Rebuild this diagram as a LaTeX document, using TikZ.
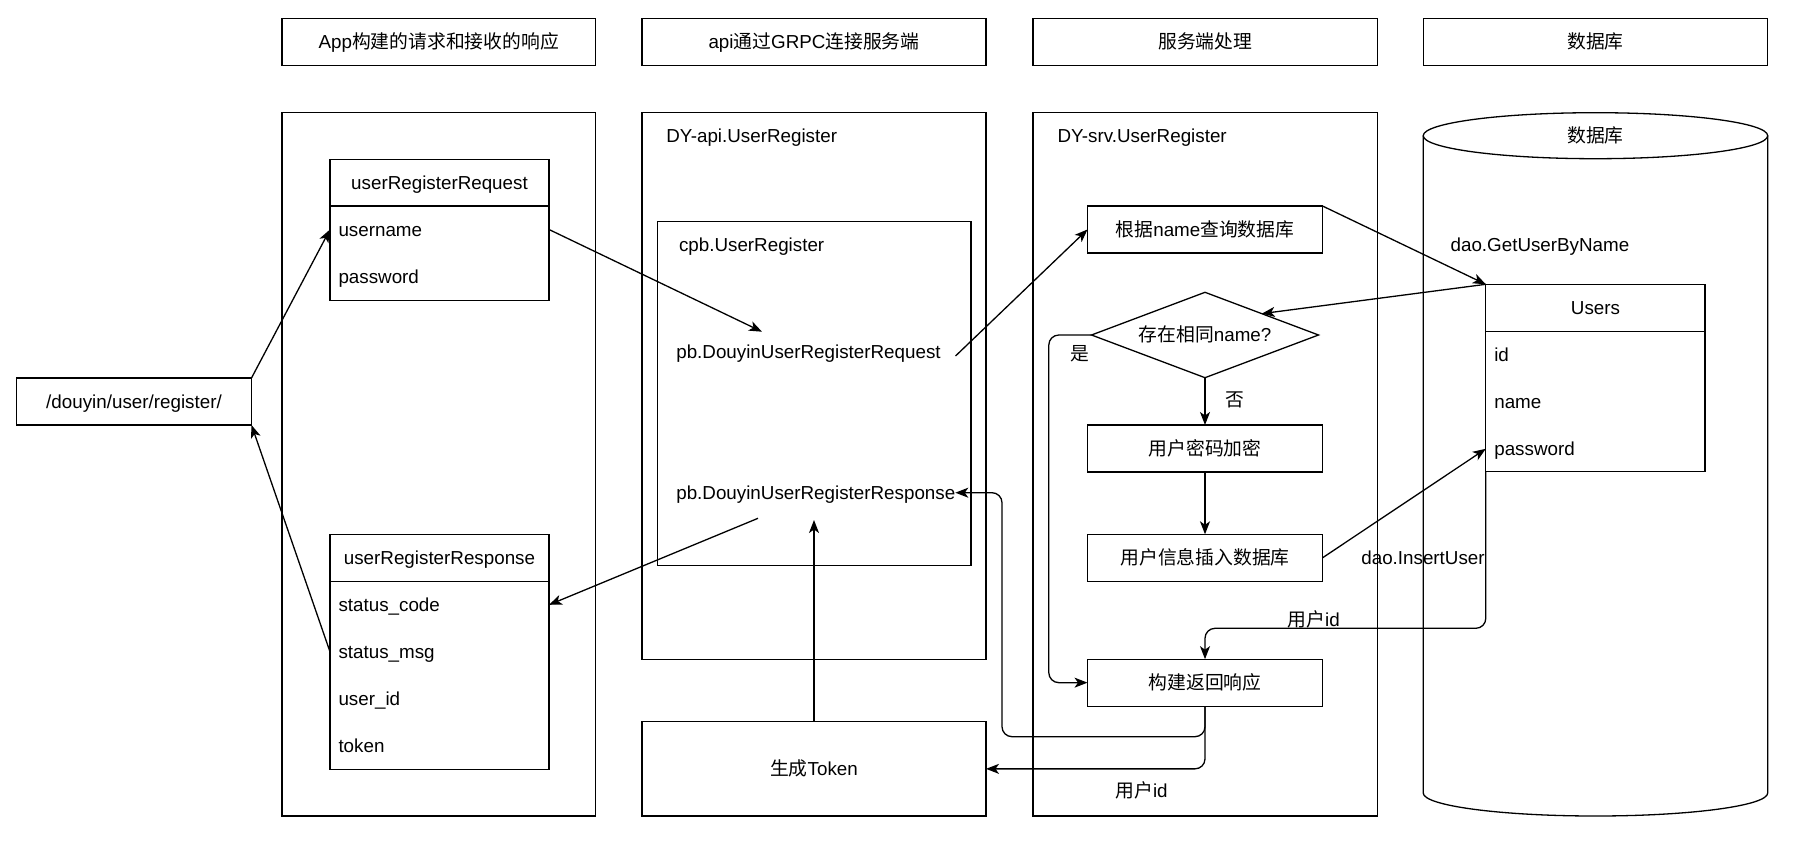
\documentclass[tikz,border=0pt]{standalone}
\usepackage{fontspec}
\setmainfont{Liberation Sans}
\newfontfamily\cjk{Noto Sans CJK SC}
\usetikzlibrary{arrows.meta,shapes.geometric}
\newcommand\zh[1]{{\cjk #1}}
\begin{document}
\begin{tikzpicture}[x=1pt,y=-1pt,
  every node/.style={font=\fontsize{18.8}{22}\selectfont, text height=17.5pt, text depth=4pt},
  ln/.style={line width=1.3pt,draw=black},
  box/.style={draw, line width=1.3pt, inner sep=0pt, outer sep=0pt},
  row/.style={inner xsep=8.5pt, inner ysep=0pt, outer sep=0pt, text width=202pt, align=left, minimum height=47pt, anchor=center},
  urow/.style={row, text width=202.3pt},
  lbl/.style={inner sep=0pt, outer sep=0pt, anchor=west},
  txt/.style={inner sep=0pt, outer sep=0pt},
  arr/.style={line width=1.3pt, -{Stealth[length=13pt,width=10pt,inset=3.5pt]}},
  rc/.style={rounded corners=10pt}
]
\useasboundingbox (0,0) rectangle (1814,843);

% headers
\node[box, minimum width=313.5pt, minimum height=47pt] (h1) at (438.75,42.2) {App\zh{构建的请求和接收的响应}};
\node[box, minimum width=344pt, minimum height=47pt] (h2) at (814,42.2) {api\zh{通过}GRPC\zh{连接服务端}};
\node[box, minimum width=344.4pt, minimum height=47pt] (h3) at (1205.2,42.2) {\zh{服务端处理}};
\node[box, minimum width=344.5pt, minimum height=47pt] (h4) at (1595.45,42.2) {\zh{数据库}};

% panels
\node[box, minimum width=313.5pt, minimum height=703.3pt] (p1) at (438.75,464.35) {};
\node[box, minimum width=344pt, minimum height=546.6pt] (p2) at (814,386) {};
\node[box, minimum width=344.4pt, minimum height=703.3pt] (p3) at (1205.2,464.35) {};
\node[box, minimum width=344pt, minimum height=94.3pt] (tok) at (814,768.85) {\zh{生成}Token};
\node[box, minimum width=313.2pt, minimum height=344pt] (cpb) at (814.3,393.7) {};

% cylinder
\draw[ln] (1423.2,135.7) -- (1423.2,793) arc[start angle=180,end angle=360,x radius=172.25pt,y radius=23pt] -- (1767.7,135.7);
\draw[ln] (1595.45,135.7) ellipse[x radius=172.25pt, y radius=23pt];
\node[txt] (db) at (1595.45,136) {\zh{数据库}};

% left endpoint
\node[box, minimum width=235pt, minimum height=47pt] (dy) at (134,401.5) {/douyin/user/register/};

% request table
\node[box, minimum width=219pt, minimum height=141pt] (req) at (439.5,229.8) {};
\node[txt] (reqH) at (439.5,182.65) {userRegisterRequest};
\draw[ln] (330,206) -- (549,206);
\node[row] (reqU) at (439.5,229.5) {username};
\node[row] (reqP) at (439.5,276.5) {password};

% response table
\node[box, minimum width=219pt, minimum height=235pt] (resp) at (439.5,651.8) {};
\node[txt] (respH) at (439.5,557.8) {userRegisterResponse};
\draw[ln] (330,581.3) -- (549,581.3);
\node[row] (respC) at (439.5,604.8) {status\_code};
\node[row] (respM) at (439.5,651.8) {status\_msg};
\node[row] (respI) at (439.5,698.8) {user\_id};
\node[row] (respT) at (439.5,745.8) {token};

% api texts
\node[lbl] (apiT) at (666.4,136) {DY-api.UserRegister};
\node[lbl] (cpbT) at (679,245) {cpb.UserRegister};
\node[lbl] (pbReq) at (676.3,351.7) {pb.DouyinUserRegisterRequest};
\node[lbl] (pbResp) at (676.3,492.7) {pb.DouyinUserRegisterResponse};

% server
\node[lbl] (srvT) at (1057.5,136) {DY-srv.UserRegister};
\node[box, minimum width=235pt, minimum height=47pt] (q) at (1205,229.5) {\zh{根据}name\zh{查询数据库}};
\node[box, shape=diamond, aspect=2.66, minimum width=227pt, minimum height=85.4pt] (dia) at (1205,335) {\zh{存在相同}name?};
\node[box, minimum width=235pt, minimum height=47pt] (enc) at (1205,448.5) {\zh{用户密码加密}};
\node[box, minimum width=235pt, minimum height=47pt] (ins) at (1205,557.8) {\zh{用户信息插入数据库}};
\node[box, minimum width=235pt, minimum height=47pt] (bld) at (1205,682.65) {\zh{构建返回响应}};

% users table
\node[box, minimum width=219.3pt, minimum height=187.4pt] (users) at (1595.45,378) {};
\node[txt] (usersH) at (1595.45,307.8) {Users};
\draw[ln] (1485.8,331.3) -- (1705.1,331.3);
\node[urow] (usersI) at (1595.45,354.8) {id};
\node[urow] (usersN) at (1595.45,401.8) {name};
\node[urow] (usersP) at (1595.45,448.8) {password};

% labels
\node[lbl] (getL) at (1450.6,245) {dao.GetUserByName};
\node[txt] (insL) at (1423,557.7) {dao.InsertUser};
\node[txt] (idL1) at (1313.7,619.3) {\zh{用户}id};
\node[txt] (idL2) at (1141.5,791) {\zh{用户}id};
\node[txt] (yesL) at (1079.5,354) {\zh{是}};
\node[txt] (noL) at (1235.2,400) {\zh{否}};

% connectors
\coordinate (reqTip) at (762,331.7);
\coordinate (grpcS) at (955.5,356);
\coordinate (tokTip) at (814,520);
\coordinate (respS) at (758,518.3);
\draw[arr] (dy.north east) -- (reqU.west);
\draw[arr] (reqU.east) -- (reqTip);
\draw[arr] (grpcS) -- (q.west);
\draw[arr] (q.north east) -- (users.north west);
\draw[arr] (users.north west) -- (dia.north east);
\draw[arr] (dia.south) -- (enc.north);
\draw[arr] (enc.south) -- (ins.north);
\draw[arr, rc] (dia.west) -- (1048.8,335) -- (1048.8,682.65) -- (bld.west);
\draw[arr] (ins.east) -- (usersP.west);
\draw[arr, rc] (users.south west) -- (1485.8,628.3) -- (1205,628.3) -- (bld.north);
\draw[arr, rc] (bld.south) -- (1205,736.7) -- (1002,736.7) |- (pbResp.east);
\draw[arr, rc] (bld.south) |- (tok.east);
\draw[arr] (tok.north) -- (tokTip);
\draw[arr] (respS) -- (respC.east);
\draw[arr] (respM.west) -- (dy.south east);
\end{tikzpicture}
\end{document}
